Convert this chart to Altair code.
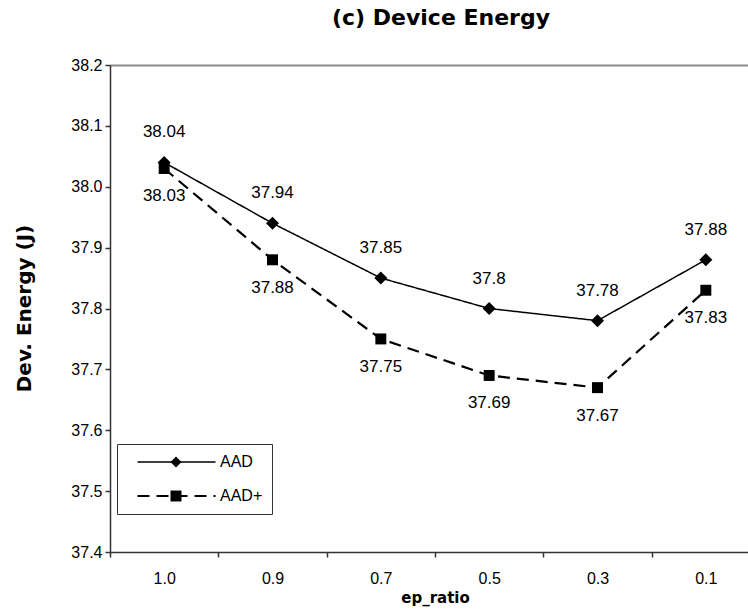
import altair as alt
import pandas as pd

categories = ["1.0", "0.9", "0.7", "0.5", "0.3", "0.1"]
aad = [38.04, 37.94, 37.85, 37.80, 37.78, 37.88]
aad_plus = [38.03, 37.88, 37.75, 37.69, 37.67, 37.83]
series_names = ["AAD", "AAD+"]
y_ticks = [37.4, 37.5, 37.6, 37.7, 37.8, 37.9, 38.0, 38.1, 38.2]

rows = []
for name, vals in zip(series_names, [aad, aad_plus]):
    for c, v in zip(categories, vals):
        rows.append({"ratio": c, "energy": v, "series": name, "series_": name,
                     "series_s": name, "label": str(v)})
df = pd.DataFrame(rows)

FONT = "Liberation Sans"
BOLD = "DejaVu Sans"

x_enc = alt.X(
    "ratio:N",
    sort=categories,
    scale=alt.Scale(type="band", paddingInner=0, paddingOuter=0, range=[0, 650]),
    axis=alt.Axis(
        title="ep_ratio",
        titleFont=BOLD,
        titleFontSize=15,
        titleFontWeight="bold",
        titleY=45,
        titleBaseline="middle",
        labelAngle=0,
        labelFont=FONT,
        labelFontSize=16,
        labelColor="black",
        labelPadding=13,
        tickBand="extent",
        tickSize=5,
        tickColor="#333333",
        tickWidth=1.5,
        domainColor="#333333",
        domainWidth=1.5,
        grid=False,
    ),
)

y_enc = alt.Y(
    "energy:Q",
    scale=alt.Scale(domain=[37.4, 38.2], zero=False, nice=False),
    axis=alt.Axis(
        title="Dev. Energy (J)",
        titleFont=BOLD,
        titleFontSize=20,
        titleFontWeight="bold",
        titleAngle=270,
        titleX=-86,
        titleY=243,
        titleAlign="center",
        titleBaseline="middle",
        values=y_ticks,
        format=".1f",
        labelFont=FONT,
        labelFontSize=16,
        labelColor="black",
        labelPadding=3,
        tickSize=5,
        tickColor="#333333",
        tickWidth=1.5,
        domainColor="#333333",
        domainWidth=1.5,
        grid=True,
        gridColor="#8c8c8c",
        gridWidth=2,
        gridOpacity={"condition": {"test": "datum.value > 38.15", "value": 1}, "value": 0},
    ),
)

base = alt.Chart(df)

lines = base.mark_line(color="black").encode(
    x=x_enc,
    y=y_enc,
    detail="series:N",
    strokeDash=alt.StrokeDash(
        "series:N",
        scale=alt.Scale(domain=series_names, range=[[1, 0], [12, 7]]),
        legend=alt.Legend(
            title=None,
            orient="none",
            legendX=7,
            legendY=379,
            direction="vertical",
            symbolType="stroke",
            symbolSize=6084,
            symbolStrokeColor="black",
            symbolStrokeWidth=2,
            symbolOffset=10,
            labelOffset=3,
            labelFont=FONT,
            labelFontSize=16,
            labelColor="black",
            labelBaseline="middle",
            clipHeight=18,
            rowPadding=16,
            padding=9,
            strokeColor="#333333",
        ),
    ),
    strokeWidth=alt.StrokeWidth(
        "series:N",
        scale=alt.Scale(domain=series_names, range=[1.5, 2.2]),
        legend=None,
    ),
)

points = base.mark_point(filled=True, color="black", opacity=1).encode(
    x=x_enc,
    y=y_enc,
    shape=alt.Shape(
        "series_:N",
        scale=alt.Scale(range=["diamond", "square"]),
        legend=alt.Legend(
            title=None,
            orient="none",
            legendX=7,
            legendY=379,
            direction="vertical",
            symbolSize=120,
            symbolFillColor="black",
            symbolStrokeColor="black",
            symbolStrokeWidth=1.5,
            symbolOffset=42,
            labelExpr="''",
            labelFont=FONT,
            labelFontSize=16,
            clipHeight=18,
            rowPadding=16,
            padding=9,
        ),
    ),
    size=alt.Size(
        "series_s:N",
        scale=alt.Scale(range=[170, 120]),
        legend=None,
    ),
)

labels_top = base.mark_text(font=FONT, fontSize=17, color="black", dy=-30).encode(
    x=x_enc, y=y_enc, text="label:N"
).transform_filter(alt.datum.series == "AAD")

labels_bottom = base.mark_text(font=FONT, fontSize=17, color="black", dy=28).encode(
    x=x_enc, y=y_enc, text="label:N"
).transform_filter(alt.datum.series == "AAD+")

chart = (
    alt.layer(lines, points, labels_top, labels_bottom)
    .properties(
        width=638,
        height=487,
        title=alt.TitleParams(
            "(c) Device Energy",
            font=BOLD,
            fontSize=22,
            fontWeight="bold",
            anchor="middle",
            frame="group",
            dx=12,
            offset=27,
            color="black",
        ),
        padding={"left": 110, "top": 65, "right": 0, "bottom": 57},
        autosize="none",
    )
    .configure_view(strokeWidth=0)
    .configure(background="white")
)

chart.save("out.html", embed_options={"renderer": "svg", "actions": False})
